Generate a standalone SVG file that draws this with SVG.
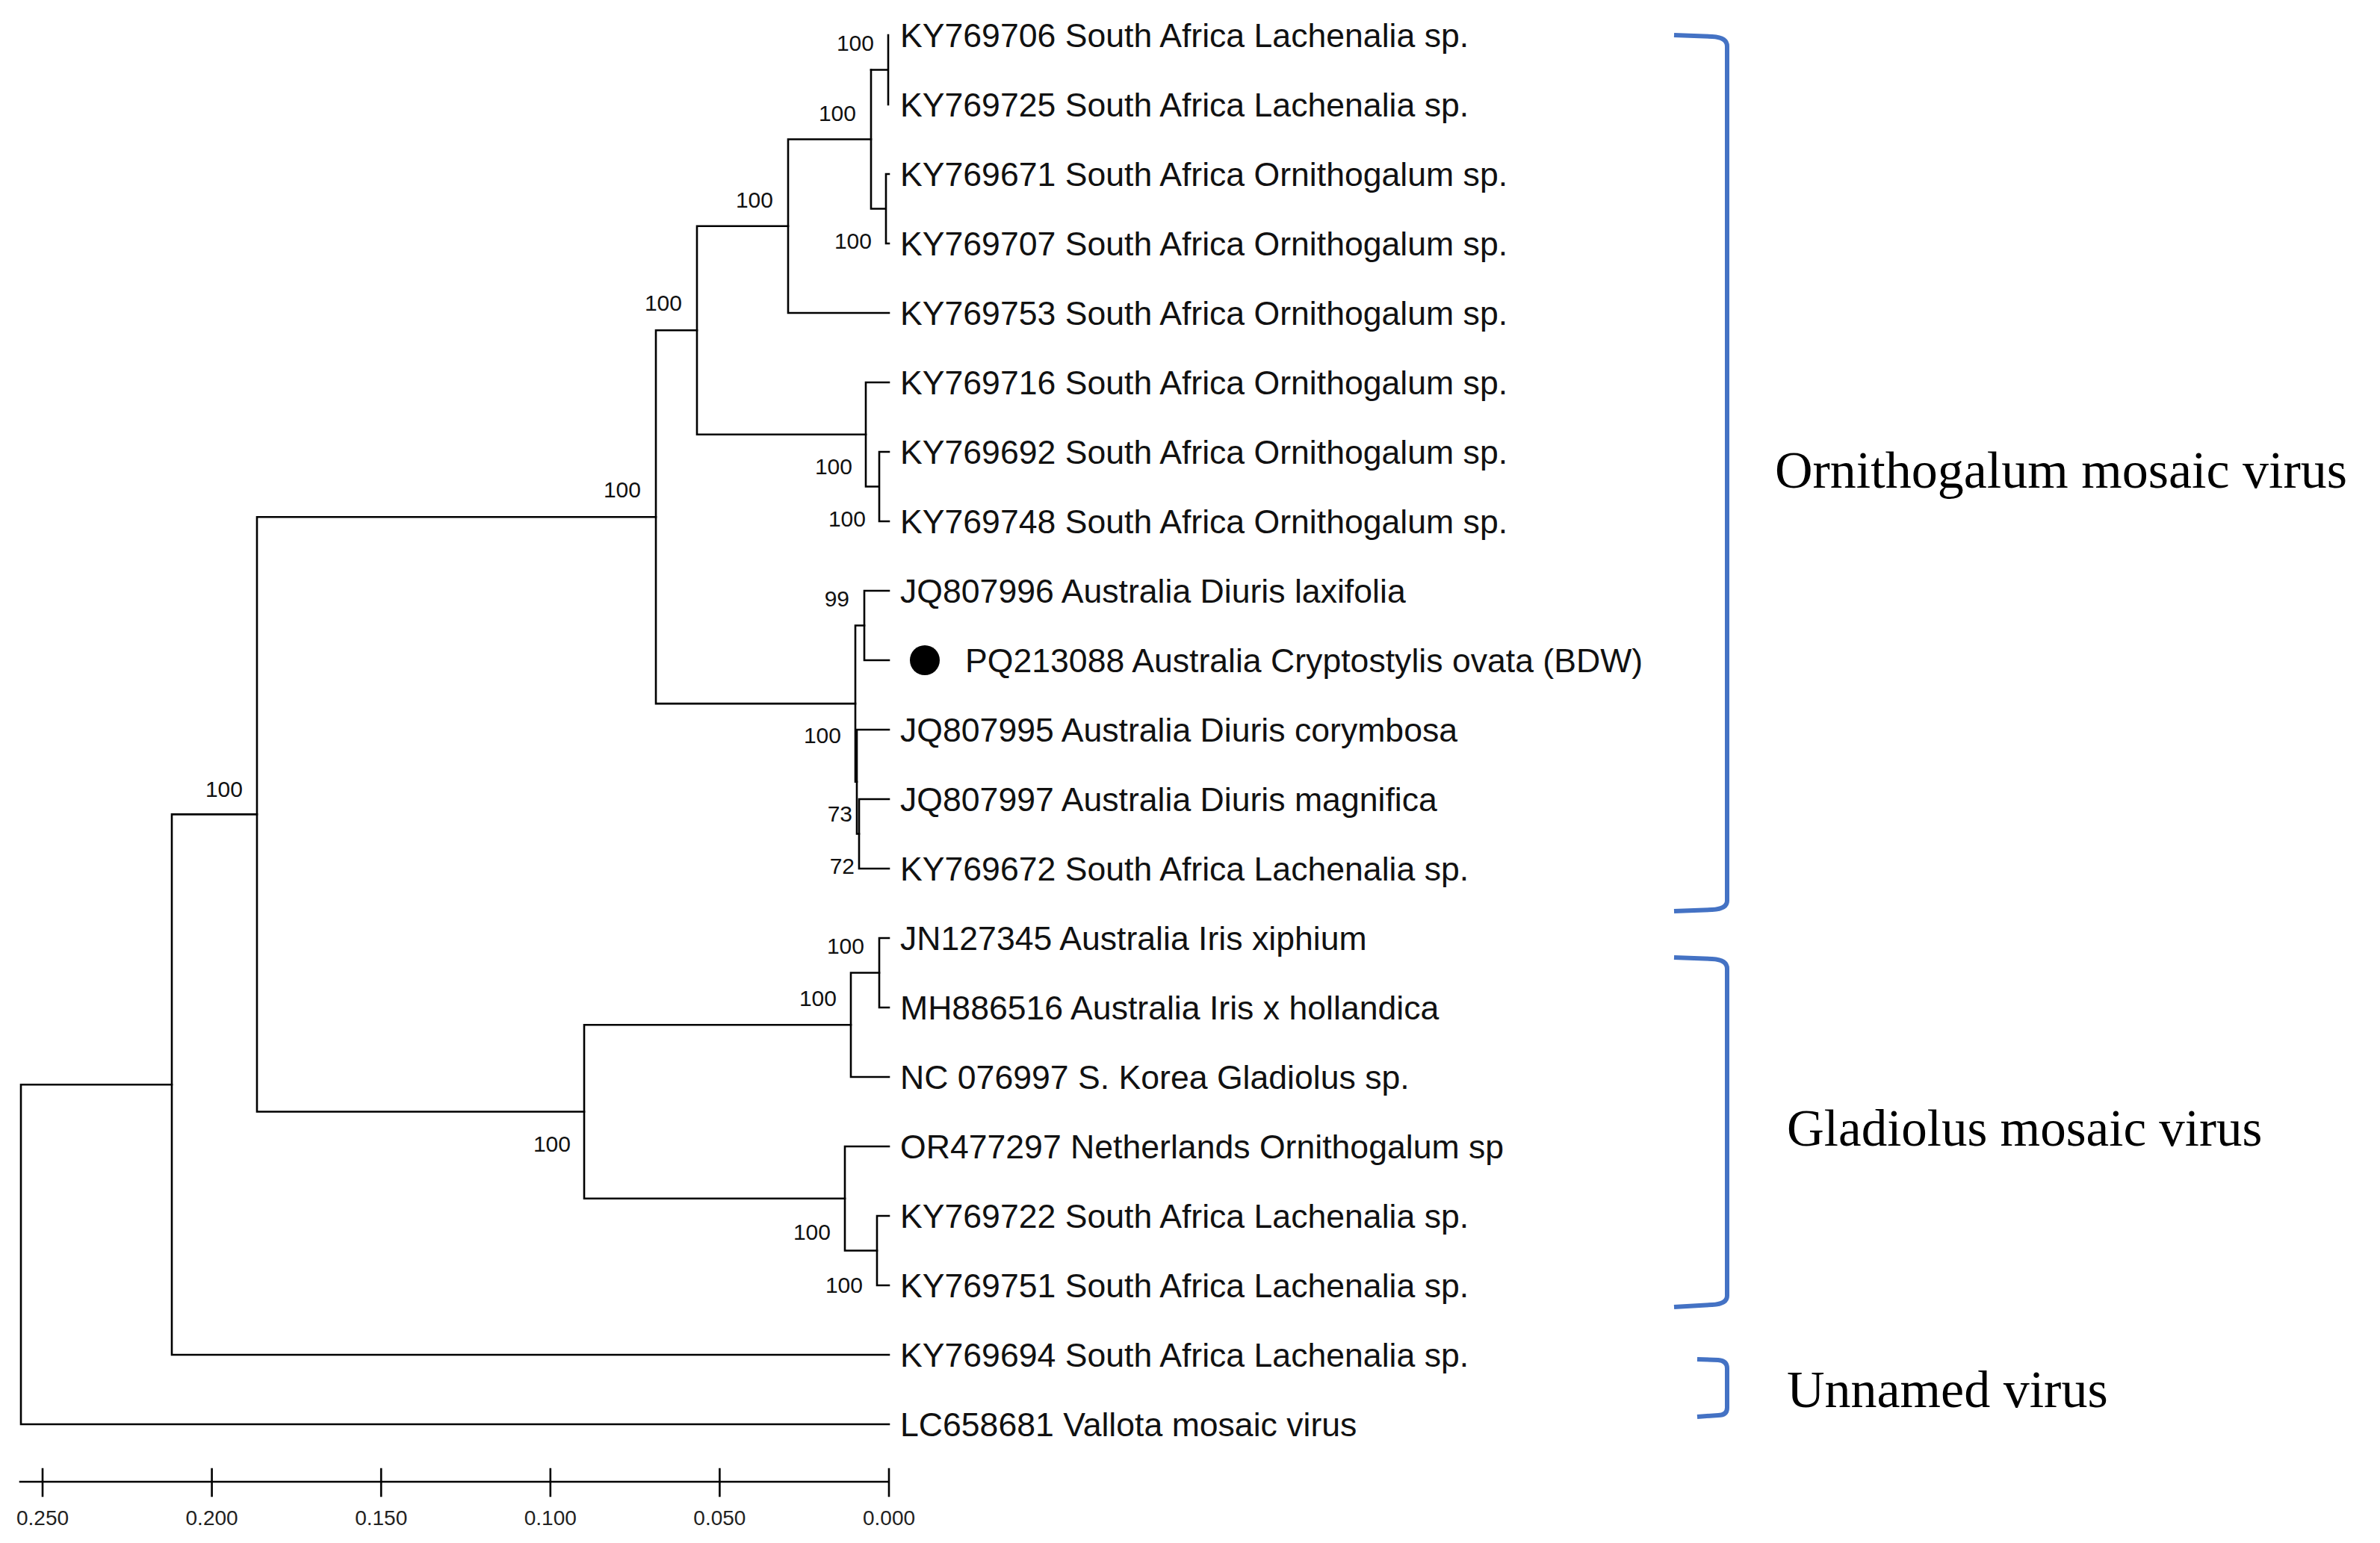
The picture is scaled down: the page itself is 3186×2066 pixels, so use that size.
<svg xmlns="http://www.w3.org/2000/svg" width="3186" height="2066" viewBox="0 0 3186 2066">
<style>
.br{fill:none;stroke:#000;stroke-width:2.6;stroke-linecap:square}
.leaf{font-family:"Liberation Sans",Arial,sans-serif;font-size:44.6px;fill:#111}
.bs{font-family:"Liberation Sans",Arial,sans-serif;font-size:30px;fill:#111;text-anchor:end}
.ax{font-family:"Liberation Sans",Arial,sans-serif;font-size:28px;fill:#222;text-anchor:middle}
.bk{fill:none;stroke:#4472C4;stroke-width:6}
.cl{font-family:"Liberation Serif","Times New Roman",serif;font-size:69px;fill:#000}
</style>
<rect width="3186" height="2066" fill="#fff"/>
<g id="connectors" class="br">
<path d="M1189 47V140M1166 93.5H1189"/>
<path d="M1166 93.5V279.5M1166 279.5H1186M1186 233V326M1186 233H1190M1186 326H1190"/>
<path d="M1055 186.5V419M1055 186.5H1166M1055 419H1190"/>
<path d="M1159 512V651.5M1159 512H1190M1159 651.5H1177M1177 605V698M1177 605H1190M1177 698H1190"/>
<path d="M933 302.75V581.75M933 302.75H1055M933 581.75H1159"/>
<path d="M1157 791V884M1157 791H1190M1157 884H1190"/>
<path d="M1150 1070V1163M1150 1070H1190M1150 1163H1190"/>
<path d="M1147 977V1116.5M1147 977H1190M1147 1116.5H1150"/>
<path d="M1145 837.5V1046.75M1145 837.5H1157M1145 1046.75H1147"/>
<path d="M878 442.25V942.1M878 442.25H933M878 942.1H1145"/>
<path d="M1177 1256V1349M1177 1256H1190M1177 1349H1190"/>
<path d="M1139 1302.5V1442M1139 1302.5H1177M1139 1442H1190"/>
<path d="M1174 1628V1721M1174 1628H1190M1174 1721H1190"/>
<path d="M1131 1535V1674.5M1131 1535H1190M1131 1674.5H1174"/>
<path d="M782 1372.25V1604.75M782 1372.25H1139M782 1604.75H1131"/>
<path d="M344 692.2V1488.5M344 692.2H878M344 1488.5H782"/>
<path d="M230 1090.35V1814M230 1090.35H344M230 1814H1190"/>
<path d="M28 1452.2V1907M28 1452.2H230M28 1907H1190"/>
</g>
<g id="bootstrap">
<text class="bs" x="1170" y="68">100</text>
<text class="bs" x="1146" y="162">100</text>
<text class="bs" x="1167" y="333">100</text>
<text class="bs" x="1035" y="278">100</text>
<text class="bs" x="913" y="416">100</text>
<text class="bs" x="858" y="666">100</text>
<text class="bs" x="325" y="1067">100</text>
<text class="bs" x="1141" y="635">100</text>
<text class="bs" x="1159" y="705">100</text>
<text class="bs" x="1137" y="812">99</text>
<text class="bs" x="1126" y="995">100</text>
<text class="bs" x="1141" y="1100">73</text>
<text class="bs" x="1144" y="1170">72</text>
<text class="bs" x="1157" y="1277">100</text>
<text class="bs" x="1120" y="1347">100</text>
<text class="bs" x="764" y="1542">100</text>
<text class="bs" x="1112" y="1660">100</text>
<text class="bs" x="1155" y="1731">100</text>
</g>
<g id="leaf1"><text class="leaf" x="1205" y="63">KY769706 South Africa Lachenalia sp.</text></g>
<g id="leaf2"><text class="leaf" x="1205" y="156">KY769725 South Africa Lachenalia sp.</text></g>
<g id="leaf3"><text class="leaf" x="1205" y="249">KY769671 South Africa Ornithogalum sp.</text></g>
<g id="leaf4"><text class="leaf" x="1205" y="342">KY769707 South Africa Ornithogalum sp.</text></g>
<g id="leaf5"><text class="leaf" x="1205" y="435">KY769753 South Africa Ornithogalum sp.</text></g>
<g id="leaf6"><text class="leaf" x="1205" y="528">KY769716 South Africa Ornithogalum sp.</text></g>
<g id="leaf7"><text class="leaf" x="1205" y="621">KY769692 South Africa Ornithogalum sp.</text></g>
<g id="leaf8"><text class="leaf" x="1205" y="714">KY769748 South Africa Ornithogalum sp.</text></g>
<g id="leaf9"><text class="leaf" x="1205" y="807">JQ807996 Australia Diuris laxifolia</text></g>
<g id="leaf10"><circle cx="1238" cy="884" r="20" fill="#000"/><text class="leaf" x="1292" y="900">PQ213088 Australia Cryptostylis ovata (BDW)</text></g>
<g id="leaf11"><text class="leaf" x="1205" y="993">JQ807995 Australia Diuris corymbosa</text></g>
<g id="leaf12"><text class="leaf" x="1205" y="1086">JQ807997 Australia Diuris magnifica</text></g>
<g id="leaf13"><text class="leaf" x="1205" y="1179">KY769672 South Africa Lachenalia sp.</text></g>
<g id="leaf14"><text class="leaf" x="1205" y="1272">JN127345 Australia Iris xiphium</text></g>
<g id="leaf15"><text class="leaf" x="1205" y="1365">MH886516 Australia Iris x hollandica</text></g>
<g id="leaf16"><text class="leaf" x="1205" y="1458">NC 076997 S. Korea Gladiolus sp.</text></g>
<g id="leaf17"><text class="leaf" x="1205" y="1551">OR477297 Netherlands Ornithogalum sp</text></g>
<g id="leaf18"><text class="leaf" x="1205" y="1644">KY769722 South Africa Lachenalia sp.</text></g>
<g id="leaf19"><text class="leaf" x="1205" y="1737">KY769751 South Africa Lachenalia sp.</text></g>
<g id="leaf20"><text class="leaf" x="1205" y="1830">KY769694 South Africa Lachenalia sp.</text></g>
<g id="leaf21"><text class="leaf" x="1205" y="1923">LC658681 Vallota mosaic virus</text></g>
<g id="clade-ornithogalum">
<path class="bk" d="M2241 47L2292 49Q2312 50 2312 62L2312 1206Q2312 1217 2292 1218L2241 1220"/>
<text class="cl" x="2376" y="653" style="font-size:70px">Ornithogalum mosaic virus</text>
</g>
<g id="clade-gladiolus">
<path class="bk" d="M2241 1282L2292 1284Q2312 1285 2312 1297L2312 1735Q2312 1746 2292 1747L2241 1750"/>
<text class="cl" x="2392" y="1534">Gladiolus mosaic virus</text>
</g>
<g id="clade-unnamed">
<path class="bk" d="M2272 1820L2300 1821Q2312 1822 2312 1832L2312 1885Q2312 1895 2300 1895L2272 1897"/>
<text class="cl" x="2392" y="1884" style="font-size:70px">Unnamed virus</text>
</g>
<g id="axis">
<path class="br" d="M27 1984H1190M57 1967V2003M283.6 1967V2003M510.2 1967V2003M736.8 1967V2003M963.4 1967V2003M1190 1967V2003"/>
<text class="ax" x="57" y="2042">0.250</text>
<text class="ax" x="283.6" y="2042">0.200</text>
<text class="ax" x="510.2" y="2042">0.150</text>
<text class="ax" x="736.8" y="2042">0.100</text>
<text class="ax" x="963.4" y="2042">0.050</text>
<text class="ax" x="1190" y="2042">0.000</text>
</g>
</svg>
